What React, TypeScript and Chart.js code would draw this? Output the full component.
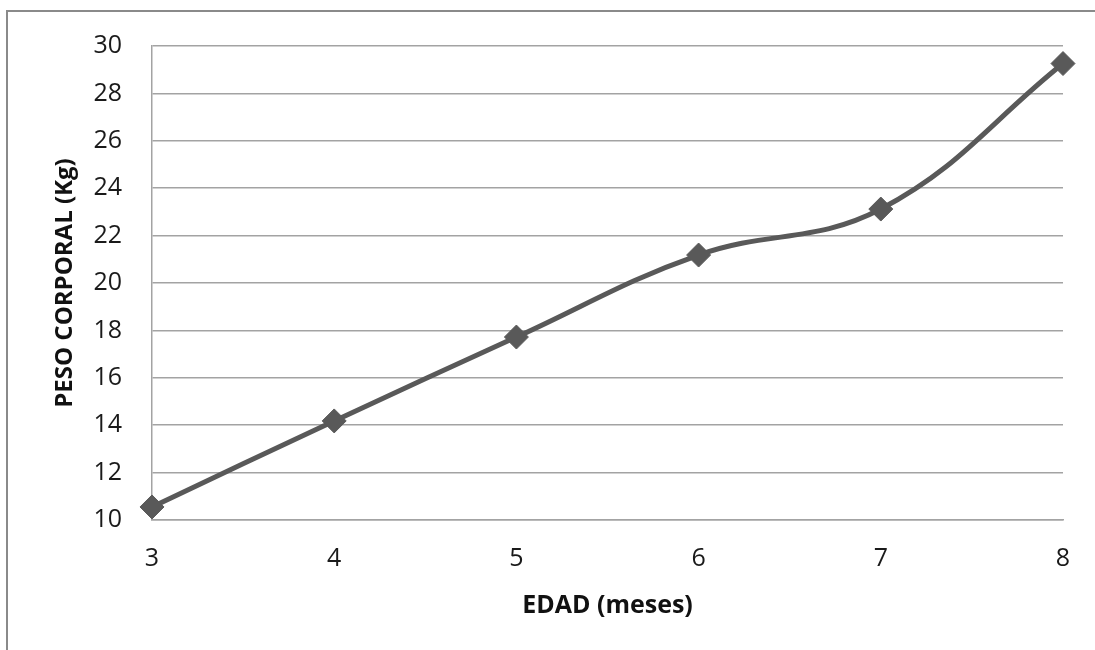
import React, { useEffect, useRef } from "react";
import { Chart, registerables } from "chart.js";

Chart.register(...registerables);

const categories = ["3", "4", "5", "6", "7", "8"];
const pesoValues = [10.55, 14.18, 17.72, 21.18, 23.12, 29.26];
const yMin = 10;
const yMax = 30;
const yStep = 2;
const xTitle = "EDAD (meses)";
const yTitle = "PESO CORPORAL (Kg)";

export default function App() {
  const ref = useRef<HTMLCanvasElement | null>(null);

  useEffect(() => {
    if (!ref.current) return;
    const fontFamily = "'Open Sans', 'Noto Sans', sans-serif";
    const gridColor = "#a3a3a3";
    const chart = new Chart(ref.current, {
      type: "line",
      data: {
        labels: categories,
        datasets: [
          {
            label: "Peso",
            data: pesoValues,
            borderColor: "#595959",
            backgroundColor: "#595959",
            borderWidth: 5,
            tension: 0.4,
            pointStyle: "rectRot",
            pointRadius: 12,
            pointBorderWidth: 1,
            pointBorderColor: "#595959",
            pointBackgroundColor: "#595959",
          },
        ],
      },
      options: {
        animation: false,
        responsive: false,
        maintainAspectRatio: false,
        layout: { padding: { left: 0, right: 32, top: 46, bottom: 0 } },
        plugins: {
          legend: { display: false },
          tooltip: { enabled: false },
        },
        scales: {
          x: {
            offset: false,
            grid: { display: false, drawTicks: false },
            border: { display: true, color: gridColor, width: 1.5 },
            ticks: {
              color: "#1a1a1a",
              font: { family: fontFamily, size: 25 },
              padding: 24,
              maxRotation: 0,
            },
            title: {
              display: true,
              text: xTitle,
              color: "#111",
              font: { family: fontFamily, size: 25, weight: "bold" },
              padding: { top: 0, bottom: 29 },
            },
            afterFit: (scale: any) => {
              scale.height = 130;
            },
          },
          y: {
            min: yMin,
            max: yMax,
            ticks: {
              stepSize: yStep,
              color: "#1a1a1a",
              font: { family: fontFamily, size: 25 },
              padding: 30,
            },
            grid: { color: gridColor, lineWidth: 1.5, drawTicks: false },
            border: { display: true, color: gridColor, width: 1.5 },
            title: {
              display: true,
              text: yTitle,
              color: "#111",
              font: { family: fontFamily, size: 24, weight: "bold" },
              padding: { top: 51, bottom: 0 },
            },
            afterFit: (scale: any) => {
              scale.width = 152;
            },
          },
        },
      },
    });
    return () => chart.destroy();
  }, []);

  return (
    <div
      style={{
        position: "fixed",
        left: 0,
        top: 0,
        width: 1095,
        height: 650,
        background: "#fff",
        overflow: "hidden",
      }}
    >
      <div
        style={{
          position: "absolute",
          left: 6,
          top: 10,
          width: 1200,
          height: 800,
          border: "2px solid #8a8a8a",
          boxSizing: "border-box",
        }}
      />
      <canvas
        ref={ref}
        width={1095}
        height={650}
        style={{ position: "absolute", left: 0, top: 0, width: 1095, height: 650 }}
      />
    </div>
  );
}
